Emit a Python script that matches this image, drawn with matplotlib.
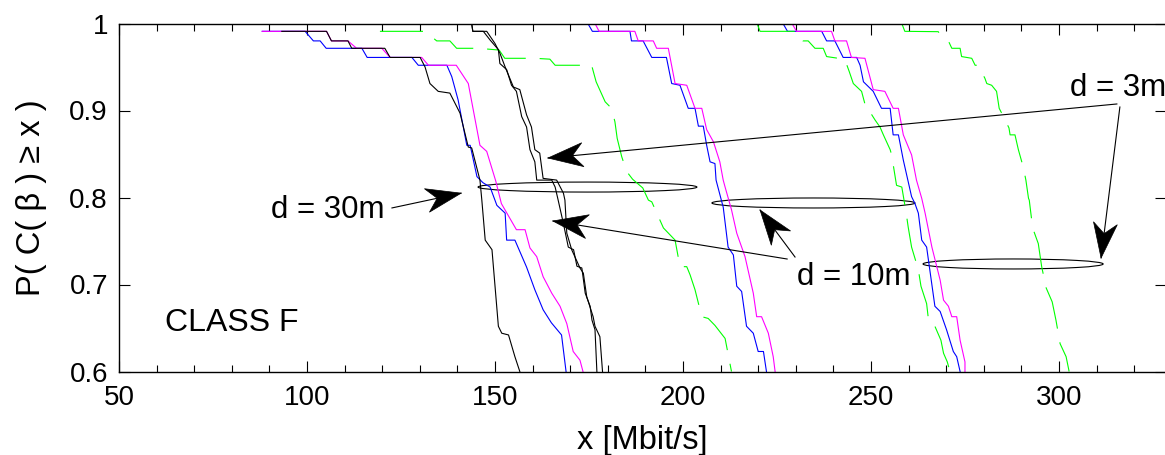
import numpy as np
import matplotlib
matplotlib.use('Agg')
import matplotlib.pyplot as plt
from matplotlib.patches import Ellipse, Polygon
from matplotlib.ticker import MultipleLocator
from matplotlib.transforms import IdentityTransform

plt.rcParams['font.family'] = ['Liberation Sans', 'DejaVu Sans']
plt.rcParams['lines.scale_dashes'] = False

# ---- curvas d = 30m (izquierda) ----
azul_a_x = [88.1, 99.5, 101.7, 103.5, 105.1, 114.6, 116.0, 127.9, 129.6, 137.2, 138.5, 140.2, 142.5, 143.4,
            145.2, 146.8, 148.7, 150.5, 152.7, 153.1, 155.3, 158.4, 160.6, 162.8, 165.0, 167.7, 168.9]
azul_a_y = [0.991, 0.991, 0.980, 0.980, 0.9715, 0.9715, 0.961, 0.961, 0.952, 0.952, 0.939, 0.912, 0.860, 0.860,
            0.824, 0.817, 0.812, 0.791, 0.782, 0.751, 0.751, 0.720, 0.694, 0.671, 0.656, 0.642, 0.600]

magenta_a_x = [88.1, 105.2, 106.5, 110.9, 113.2, 119.9, 122.1, 130.5, 132.3, 139.7, 142.9, 146.0, 147.8, 150.2,
               151.7, 155.7, 158.0, 159.3, 161.1, 162.8, 165.1, 167.3, 169.1, 170.8, 172.6, 173.4]
magenta_a_y = [0.991, 0.991, 0.980, 0.980, 0.9715, 0.9715, 0.961, 0.961, 0.952, 0.952, 0.931, 0.860, 0.853, 0.819,
               0.793, 0.763, 0.763, 0.742, 0.732, 0.709, 0.690, 0.675, 0.655, 0.623, 0.613, 0.600]

negro_a_x = [93.3, 105.2, 106.5, 110.9, 111.9, 120.7, 122.1, 130.1, 131.4, 132.7, 134.9, 138.0, 140.7, 142.9, 143.8,
             146.0, 146.5, 147.4, 149.2, 150.9, 151.8, 153.6, 155.3, 156.6]
negro_a_y = [0.991, 0.991, 0.980, 0.980, 0.9715, 0.9715, 0.961, 0.961, 0.950, 0.931, 0.922, 0.920, 0.897, 0.858, 0.857,
             0.820, 0.797, 0.751, 0.740, 0.652, 0.644, 0.642, 0.617, 0.600]

negro_b1_x = [143.8, 144.1, 146.9, 148.7, 150.9, 151.3, 153.1, 154.4, 155.7, 157.1, 158.4, 159.3, 160.6, 161.1,
              165.1, 166.0, 166.8, 168.2, 169.5, 170.9, 171.8, 173.1, 174.0, 175.3, 175.8, 176.6, 177.1]
negro_b1_y = [1.0, 0.991, 0.991, 0.981, 0.970, 0.954, 0.947, 0.929, 0.922, 0.893, 0.881, 0.855, 0.841, 0.820,
              0.820, 0.812, 0.797, 0.770, 0.743, 0.740, 0.721, 0.719, 0.690, 0.675, 0.659, 0.648, 0.600]

negro_b2_x = [143.8, 144.1, 147.8, 150.0, 151.3, 152.7, 154.9, 156.6, 158.4, 159.7, 160.6, 161.9, 162.8, 166.4,
              168.2, 168.6, 169.1, 170.4, 172.6, 173.5, 174.4, 176.1, 176.6, 177.9, 178.6]
negro_b2_y = [1.0, 0.991, 0.991, 0.977, 0.966, 0.950, 0.927, 0.924, 0.895, 0.881, 0.855, 0.851, 0.822, 0.820,
              0.805, 0.797, 0.759, 0.740, 0.719, 0.713, 0.686, 0.663, 0.652, 0.640, 0.600]

# ---- curvas d = 10m ----
azul_c_x = [174.7, 175.9, 185.9, 186.3, 189.4, 191.7, 195.6, 197.0, 199.2, 201.4, 203.2, 204.1, 205.4, 206.3,
            207.2, 208.5, 208.8, 210.2, 210.7, 212.0, 213.4, 214.3, 215.6, 216.9, 218.7, 220.0, 221.4, 222.2]
azul_c_y = [1.0, 0.991, 0.991, 0.980, 0.980, 0.961, 0.961, 0.931, 0.929, 0.9025, 0.9025, 0.882, 0.882, 0.860,
            0.841, 0.839, 0.820, 0.797, 0.789, 0.743, 0.734, 0.698, 0.692, 0.652, 0.644, 0.623, 0.623, 0.600]

magenta_c_x = [176.6, 177.7, 187.2, 188.1, 192.1, 193.0, 196.1, 197.9, 201.0, 203.2, 205.0, 206.3, 208.1, 209.8,
               210.7, 211.2, 212.9, 214.3, 216.5, 218.7, 219.6, 220.9, 222.7, 224.0, 224.5]
magenta_c_y = [1.0, 0.991, 0.991, 0.980, 0.980, 0.9715, 0.9715, 0.931, 0.929, 0.9025, 0.9025, 0.878, 0.864, 0.841,
               0.820, 0.812, 0.786, 0.759, 0.732, 0.690, 0.663, 0.663, 0.644, 0.617, 0.600]

azul_d_x = [226.6, 227.8, 236.9, 238.2, 240.4, 242.6, 246.2, 247.1, 248.0, 250.6, 252.8, 255.1, 255.9, 257.3,
            258.6, 260.8, 261.7, 262.6, 263.5, 264.8, 267.0, 268.4, 270.1, 271.9, 272.8, 273.7]
azul_d_y = [1.0, 0.991, 0.991, 0.980, 0.980, 0.961, 0.961, 0.952, 0.933, 0.922, 0.9025, 0.9025, 0.872, 0.872,
            0.843, 0.801, 0.793, 0.782, 0.751, 0.743, 0.675, 0.669, 0.648, 0.623, 0.617, 0.600]

magenta_d_x = [229.0, 230.2, 239.5, 240.4, 243.5, 244.8, 248.4, 250.6, 253.7, 255.9, 257.3, 258.6, 260.8, 262.1,
               263.5, 264.4, 266.2, 268.4, 269.3, 270.6, 271.5, 272.8, 273.7, 275.0, 275.0]
magenta_d_y = [1.0, 0.991, 0.991, 0.980, 0.980, 0.961, 0.960, 0.924, 0.922, 0.9025, 0.9025, 0.872, 0.849, 0.820,
               0.799, 0.782, 0.743, 0.705, 0.682, 0.675, 0.663, 0.663, 0.636, 0.611, 0.600]

# ---- curvas d = 3m (verde, discontinuas) ----
verde_1_x = [119.4, 131.4, 134.5, 138.0, 139.8, 145.5, 151.1, 152.6, 160.6, 164.6, 166.0, 175.7, 176.9, 179.3,
             181.0, 181.9, 182.5, 183.7, 185.0, 186.6, 189.3, 190.8, 191.7, 194.8, 197.9, 199.2, 201.0, 201.9,
             203.2, 205.0, 206.7, 208.5, 211.2, 212.9]
verde_1_y = [0.991, 0.991, 0.980, 0.980, 0.9715, 0.9715, 0.9695, 0.960, 0.960, 0.959, 0.952, 0.952, 0.933, 0.910,
             0.9025, 0.887, 0.868, 0.847, 0.830, 0.821, 0.811, 0.797, 0.795, 0.765, 0.751, 0.7205, 0.7205, 0.711,
             0.694, 0.663, 0.661, 0.653, 0.638, 0.600]

verde_2_x = [219.7, 220.5, 230.6, 231.9, 233.3, 235.1, 237.3, 238.2, 241.3, 243.1, 244.2, 245.3, 247.5, 248.7,
             249.2, 251.1, 252.4, 253.3, 255.1, 255.5, 256.2, 256.8, 258.2, 259.3, 259.9, 260.8, 262.6, 263.3,
             264.8, 265.2, 266.2, 267.0, 268.6, 269.3, 270.3, 271.0]
verde_2_y = [1.0, 0.991, 0.991, 0.980, 0.980, 0.9715, 0.9715, 0.962, 0.960, 0.958, 0.945, 0.931, 0.922, 0.9025,
             0.902, 0.889, 0.881, 0.872, 0.855, 0.849, 0.830, 0.814, 0.812, 0.784, 0.766, 0.743, 0.717, 0.698,
             0.678, 0.663, 0.662, 0.652, 0.636, 0.621, 0.611, 0.600]

verde_3_x = [258.2, 259.0, 267.9, 268.4, 269.4, 270.8, 271.5, 273.7, 274.1, 276.8, 277.7, 278.5, 280.3, 280.8,
             282.1, 283.4, 284.1, 285.0, 286.7, 287.0, 288.3, 289.2, 290.5, 291.2, 291.9, 292.1, 293.0, 294.5,
             295.4, 296.6, 298.2, 299.2, 300.3, 301.9, 302.7]
verde_3_y = [1.0, 0.991, 0.9906, 0.987, 0.983, 0.978, 0.9715, 0.9715, 0.962, 0.960, 0.952, 0.952, 0.937, 0.931,
             0.929, 0.922, 0.9025, 0.895, 0.880, 0.872, 0.872, 0.855, 0.835, 0.820, 0.799, 0.797, 0.765, 0.747,
             0.7205, 0.696, 0.680, 0.659, 0.632, 0.617, 0.600]

xticks = [50, 100, 150, 200, 250, 300]
yticks = [0.6, 0.7, 0.8, 0.9, 1.0]
ytick_labels = ['0.6', '0.7', '0.8', '0.9', '1']

fig = plt.figure(figsize=(11.65, 4.55), dpi=100)
ax = fig.add_axes([119 / 1165, 1 - 371.5 / 455, 1047.5 / 1165, 348 / 455])
ax.set_xlim(50, 328.6)
ax.set_ylim(0.6, 1.0)

for xs, ys in [(azul_a_x, azul_a_y), (azul_c_x, azul_c_y), (azul_d_x, azul_d_y)]:
    ax.plot(xs, ys, color='#0000ff', lw=0.8)
for xs, ys in [(magenta_a_x, magenta_a_y), (magenta_c_x, magenta_c_y), (magenta_d_x, magenta_d_y)]:
    ax.plot(xs, ys, color='#ff00ff', lw=0.8)
for xs, ys in [(verde_1_x, verde_1_y), (verde_2_x, verde_2_y), (verde_3_x, verde_3_y)]:
    ax.plot(xs, ys, color='#00ff00', lw=0.8, linestyle=(0, (31, 10)))
for xs, ys in [(negro_a_x, negro_a_y), (negro_b1_x, negro_b1_y), (negro_b2_x, negro_b2_y)]:
    ax.plot(xs, ys, color='k', lw=0.8)

# elipses que agrupan las curvas
for cx, cy, w in [(174.6, 0.812, 58.2), (234.7, 0.7937, 54.0), (287.8, 0.7236, 47.9)]:
    ax.add_patch(Ellipse((cx, cy), w, 0.0115, fill=False, ec='k', lw=0.8))


def flecha(tail, tip, L=35, W=12):
    ax.plot([tail[0], tip[0]], [tail[1], tip[1]], color='k', lw=0.8)
    p0 = ax.transData.transform(tail)
    p1 = ax.transData.transform(tip)
    u = (p1 - p0) / np.hypot(*(p1 - p0))
    n = np.array([-u[1], u[0]])
    pts = [p1, p1 - L * u + W * n, p1 - 0.7 * L * u, p1 - L * u - W * n]
    ax.add_patch(Polygon(pts, closed=True, fc='k', ec='k', lw=0.5, transform=IdentityTransform()))


flecha((122.6, 0.788), (141.0, 0.805))
flecha((315.4, 0.9075), (164.1, 0.8454))
flecha((316.2, 0.904), (311.2, 0.7305))
flecha((227.7, 0.7293), (165.4, 0.773))
flecha((229.8, 0.7316), (220.5, 0.7856))

ax.text(90.5, 0.776, 'd = 30m', fontsize=22.5, ha='left', va='baseline')
ax.text(230.3, 0.6994, 'd = 10m', fontsize=22.5, ha='left', va='baseline')
ax.text(302.9, 0.9167, 'd = 3m', fontsize=22.5, ha='left', va='baseline', clip_on=False)
ax.text(62.2, 0.6466, 'CLASS F', fontsize=23, ha='left', va='baseline')

ax.set_xticks(xticks)
ax.set_xticklabels([str(t) for t in xticks])
ax.set_yticks(yticks)
ax.set_yticklabels(ytick_labels)
ax.xaxis.set_minor_locator(MultipleLocator(10))
ax.tick_params(which='both', direction='in', top=True, right=True, labelsize=20, width=0.8)
ax.tick_params(which='major', length=8)
ax.tick_params(which='minor', length=5)
ax.tick_params(axis='x', pad=10)
ax.tick_params(axis='y', pad=8)
for s in ax.spines.values():
    s.set_linewidth(1.0)

ax.set_xlabel('x [Mbit/s]', fontsize=23.5, labelpad=10)
ax.set_ylabel('P( C( β ) ≥ x )', fontsize=23.5, labelpad=16)

fig.savefig('out.png', dpi=100)
